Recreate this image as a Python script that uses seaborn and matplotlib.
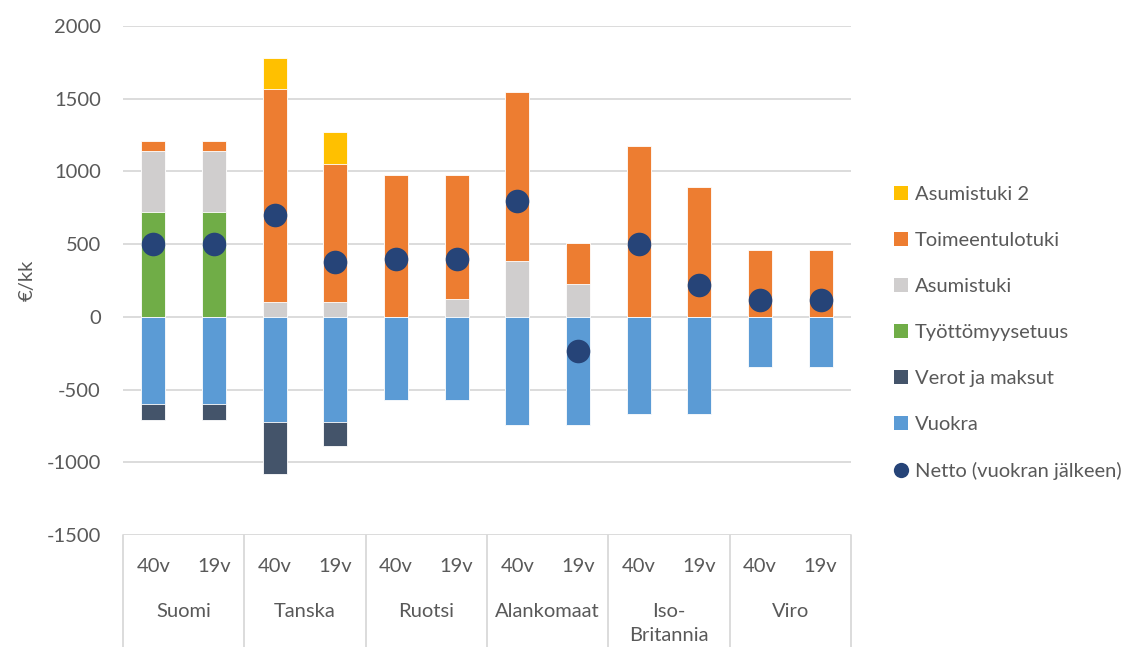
import matplotlib
matplotlib.use("Agg")
import matplotlib.pyplot as plt
import matplotlib.transforms as mtransforms
from matplotlib.lines import Line2D
import seaborn as sns
import pandas as pd
import numpy as np

# data (€/kk)
countries = ["Suomi", "Tanska", "Ruotsi", "Alankomaat", "Iso-\nBritannia", "Viro"]
ages = ["40v", "19v"]

tyottomyysetuus = [720, 720, 0, 0, 0, 0, 0, 0, 0, 0, 0, 0]
asumistuki = [420, 420, 100, 100, 0, 125, 385, 225, 0, 0, 0, 0]
toimeentulotuki = [70, 70, 1470, 950, 975, 850, 1160, 285, 1175, 890, 460, 460]
asumistuki2 = [0, 0, 210, 220, 0, 0, 0, 0, 0, 0, 0, 0]
vuokra = [-600, -600, -720, -720, -575, -575, -745, -745, -670, -670, -345, -345]
verot = [-110, -110, -360, -170, 0, 0, 0, 0, 0, 0, 0, 0]
netto = [500, 500, 700, 380, 400, 400, 800, -235, 500, 220, 115, 115]

colors = {
    "Asumistuki 2": "#FFC000",
    "Toimeentulotuki": "#ED7D31",
    "Asumistuki": "#D0CECE",
    "Työttömyysetuus": "#70AD47",
    "Verot ja maksut": "#44546A",
    "Vuokra": "#5B9BD5",
    "Netto (vuokran jälkeen)": "#264478",
}
text_color = "#595959"
grid_color = "#D9D9D9"
fs = 14.5

sns.set_theme(style="white")
plt.rcParams["font.family"] = ["Lato", "DejaVu Sans"]
plt.rcParams["axes.unicode_minus"] = False

keys = [f"{c}|{a}" for c in countries for a in ages]

# cumulative tops so the stacks can be drawn as overlapping bars
cum_ty = np.array(tyottomyysetuus)
cum_as = cum_ty + np.array(asumistuki)
cum_to = cum_as + np.array(toimeentulotuki)
cum_a2 = cum_to + np.array(asumistuki2)
cum_vu = np.array(vuokra)
cum_ve = cum_vu + np.array(verot)

layers = [
    ("Asumistuki 2", cum_a2),
    ("Toimeentulotuki", cum_to),
    ("Asumistuki", cum_as),
    ("Työttömyysetuus", cum_ty),
    ("Verot ja maksut", cum_ve),
    ("Vuokra", cum_vu),
]

fig = plt.figure(figsize=(11.45, 6.47), dpi=100)
ax = fig.add_axes([123 / 1145, 1 - 535 / 647, (851 - 123) / 1145, (535 - 26) / 647])

for name, vals in layers:
    df = pd.DataFrame({"key": keys, "value": vals})
    sns.barplot(data=df, x="key", y="value", order=keys, color=colors[name],
                width=0.4, saturation=1, errorbar=None, linewidth=0.6,
                edgecolor="white", ax=ax)

df_net = pd.DataFrame({"key": keys, "value": netto})
sns.stripplot(data=df_net, x="key", y="value", order=keys, jitter=False,
              size=17, color=colors["Netto (vuokran jälkeen)"], ax=ax, zorder=5)

ax.set_xlim(-0.5, len(keys) - 0.5)
ax.set_ylim(-1500, 2000)
ax.set_yticks(range(-1500, 2001, 500))
ax.yaxis.grid(True, color=grid_color, linewidth=1.3)
ax.set_axisbelow(True)
for s in ax.spines.values():
    s.set_visible(False)
ax.tick_params(axis="x", length=0, labelbottom=False)
ax.tick_params(axis="y", length=0, pad=16, labelsize=fs, labelcolor=text_color)
ax.set_xlabel("")
ax.set_ylabel("€/kk", fontsize=fs, color=text_color, labelpad=8)

# two-level category axis
trans = mtransforms.blended_transform_factory(ax.transData, ax.transAxes)
for i, k in enumerate(keys):
    ax.text(i, -0.061, k.split("|")[1], transform=trans, ha="center", va="center",
            fontsize=fs, color=text_color)
for j, c in enumerate(countries):
    for li, line in enumerate(c.split("\n")):
        ax.annotate(line, xy=(2 * j + 0.5, -0.151), xycoords=trans,
                    xytext=(0, -17 * li), textcoords="offset points",
                    ha="center", va="center", fontsize=fs, color=text_color,
                    annotation_clip=False)
for b in np.arange(-0.5, len(keys), 2):
    ax.plot([b, b], [0, -0.25], transform=trans, clip_on=False,
            color=grid_color, linewidth=1.3)

handles = []
for name in ["Asumistuki 2", "Toimeentulotuki", "Asumistuki", "Työttömyysetuus",
             "Verot ja maksut", "Vuokra"]:
    handles.append(Line2D([], [], linestyle="none", marker="s", markersize=10,
                          markerfacecolor=colors[name], markeredgewidth=0, label=name))
handles.append(Line2D([], [], linestyle="none", marker="o", markersize=11,
                      markerfacecolor=colors["Netto (vuokran jälkeen)"],
                      markeredgewidth=0, label="Netto (vuokran jälkeen)"))
leg = fig.legend(handles=handles, loc="center left", bbox_to_anchor=(885 / 1145, 1 - 333 / 647),
                 frameon=False, fontsize=fs, labelspacing=1.43, handlelength=0.8,
                 handletextpad=0.3, borderaxespad=0)
for t in leg.get_texts():
    t.set_color(text_color)

fig.savefig("out.png", dpi=100)
